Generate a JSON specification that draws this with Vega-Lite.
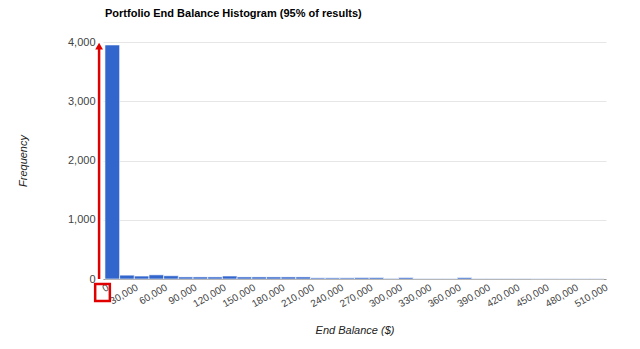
{
  "$schema": "https://vega.github.io/schema/vega-lite/v6.json",
  "width": 503,
  "height": 237,
  "autosize": {"type": "none"},
  "padding": {"left": 103, "top": 42, "right": 34, "bottom": 70},
  "background": "white",
  "config": {
    "view": {"stroke": null},
    "font": "Liberation Sans",
    "axisX": {"labelOverlap": false, "labelFlush": false, "labelBound": false}
  },
  "title": {
    "text": "Portfolio End Balance Histogram (95% of results)",
    "anchor": "start",
    "frame": "group",
    "fontSize": 11,
    "fontWeight": "bold",
    "color": "#000000",
    "offset": 17,
    "dx": 2
  },
  "layer": [
    {
      "data": {
        "values": [
          {"bin_start": 0, "bin_end": 15000, "count": 3950},
          {"bin_start": 15000, "bin_end": 30000, "count": 65},
          {"bin_start": 30000, "bin_end": 45000, "count": 50},
          {"bin_start": 45000, "bin_end": 60000, "count": 70},
          {"bin_start": 60000, "bin_end": 75000, "count": 55},
          {"bin_start": 75000, "bin_end": 90000, "count": 35},
          {"bin_start": 90000, "bin_end": 105000, "count": 35},
          {"bin_start": 105000, "bin_end": 120000, "count": 35},
          {"bin_start": 120000, "bin_end": 135000, "count": 50},
          {"bin_start": 135000, "bin_end": 150000, "count": 35},
          {"bin_start": 150000, "bin_end": 165000, "count": 35},
          {"bin_start": 165000, "bin_end": 180000, "count": 35},
          {"bin_start": 180000, "bin_end": 195000, "count": 35},
          {"bin_start": 195000, "bin_end": 210000, "count": 35},
          {"bin_start": 210000, "bin_end": 225000, "count": 20},
          {"bin_start": 225000, "bin_end": 240000, "count": 20},
          {"bin_start": 240000, "bin_end": 255000, "count": 20},
          {"bin_start": 255000, "bin_end": 270000, "count": 25},
          {"bin_start": 270000, "bin_end": 285000, "count": 25},
          {"bin_start": 285000, "bin_end": 300000, "count": 10},
          {"bin_start": 300000, "bin_end": 315000, "count": 25},
          {"bin_start": 315000, "bin_end": 330000, "count": 8},
          {"bin_start": 330000, "bin_end": 345000, "count": 8},
          {"bin_start": 345000, "bin_end": 360000, "count": 8},
          {"bin_start": 360000, "bin_end": 375000, "count": 25},
          {"bin_start": 375000, "bin_end": 390000, "count": 8},
          {"bin_start": 390000, "bin_end": 405000, "count": 8},
          {"bin_start": 405000, "bin_end": 420000, "count": 8},
          {"bin_start": 420000, "bin_end": 435000, "count": 8},
          {"bin_start": 435000, "bin_end": 450000, "count": 5},
          {"bin_start": 450000, "bin_end": 465000, "count": 5},
          {"bin_start": 465000, "bin_end": 480000, "count": 5},
          {"bin_start": 480000, "bin_end": 495000, "count": 5},
          {"bin_start": 495000, "bin_end": 510000, "count": 5}
        ]
      },
      "mark": {"type": "bar", "color": "#3366cc", "stroke": "white", "strokeWidth": 0.6},
      "encoding": {
        "x": {
          "field": "bin_start",
          "type": "quantitative",
          "scale": {"domain": [-2000, 512000], "nice": false, "zero": false},
          "axis": {
            "values": [0, 30000, 60000, 90000, 120000, 150000, 180000, 210000, 240000, 270000, 300000, 330000, 360000, 390000, 420000, 450000, 480000, 510000],
            "tickCount": 30,
            "format": ",.0f",
            "labelAngle": -30,
            "labelFontSize": 10,
            "labelColor": "#444444",
            "labelPadding": 3,
            "labelFlush": false,
            "labelOverlap": false,
            "ticks": false,
            "grid": false,
            "domain": true,
            "domainColor": "#999999",
            "title": "End Balance ($)",
            "titleFontSize": 11,
            "titleFontStyle": "italic",
            "titleFontWeight": "normal",
            "titleColor": "#222222",
            "titlePadding": 16
          }
        },
        "x2": {"field": "bin_end"},
        "y": {
          "field": "count",
          "type": "quantitative",
          "scale": {"domain": [0, 4000], "nice": false},
          "axis": {
            "values": [0, 1000, 2000, 3000, 4000],
            "format": ",.0f",
            "labelFontSize": 11,
            "labelColor": "#444444",
            "labelPadding": 8,
            "ticks": false,
            "domain": false,
            "grid": true,
            "gridColor": "#e6e6e6",
            "title": "Frequency",
            "titleFontSize": 11,
            "titleFontStyle": "italic",
            "titleFontWeight": "normal",
            "titleColor": "#222222",
            "titlePadding": 39
          }
        },
        "y2": {"datum": 0}
      }
    },
    {
      "data": {"values": [{"x": -6000, "y0": 0, "y1": 3930}]},
      "mark": {"type": "rule", "color": "#e00000", "strokeWidth": 2.5, "clip": false},
      "encoding": {
        "x": {"field": "x", "type": "quantitative"},
        "y": {"field": "y0", "type": "quantitative"},
        "y2": {"field": "y1"}
      }
    },
    {
      "data": {"values": [{"x": -6000, "y": 3930}]},
      "mark": {"type": "point", "shape": "triangle-up", "filled": true, "color": "#e00000", "size": 60, "opacity": 1, "clip": false},
      "encoding": {
        "x": {"field": "x", "type": "quantitative"},
        "y": {"field": "y", "type": "quantitative"}
      }
    },
    {
      "data": {"values": [{"x0": -10000, "x1": 5000, "y0": -85, "y1": -370}]},
      "mark": {"type": "rect", "fill": null, "stroke": "#e00000", "strokeWidth": 2.5, "clip": false},
      "encoding": {
        "x": {"field": "x0", "type": "quantitative"},
        "x2": {"field": "x1"},
        "y": {"field": "y0", "type": "quantitative"},
        "y2": {"field": "y1"}
      }
    }
  ]
}
